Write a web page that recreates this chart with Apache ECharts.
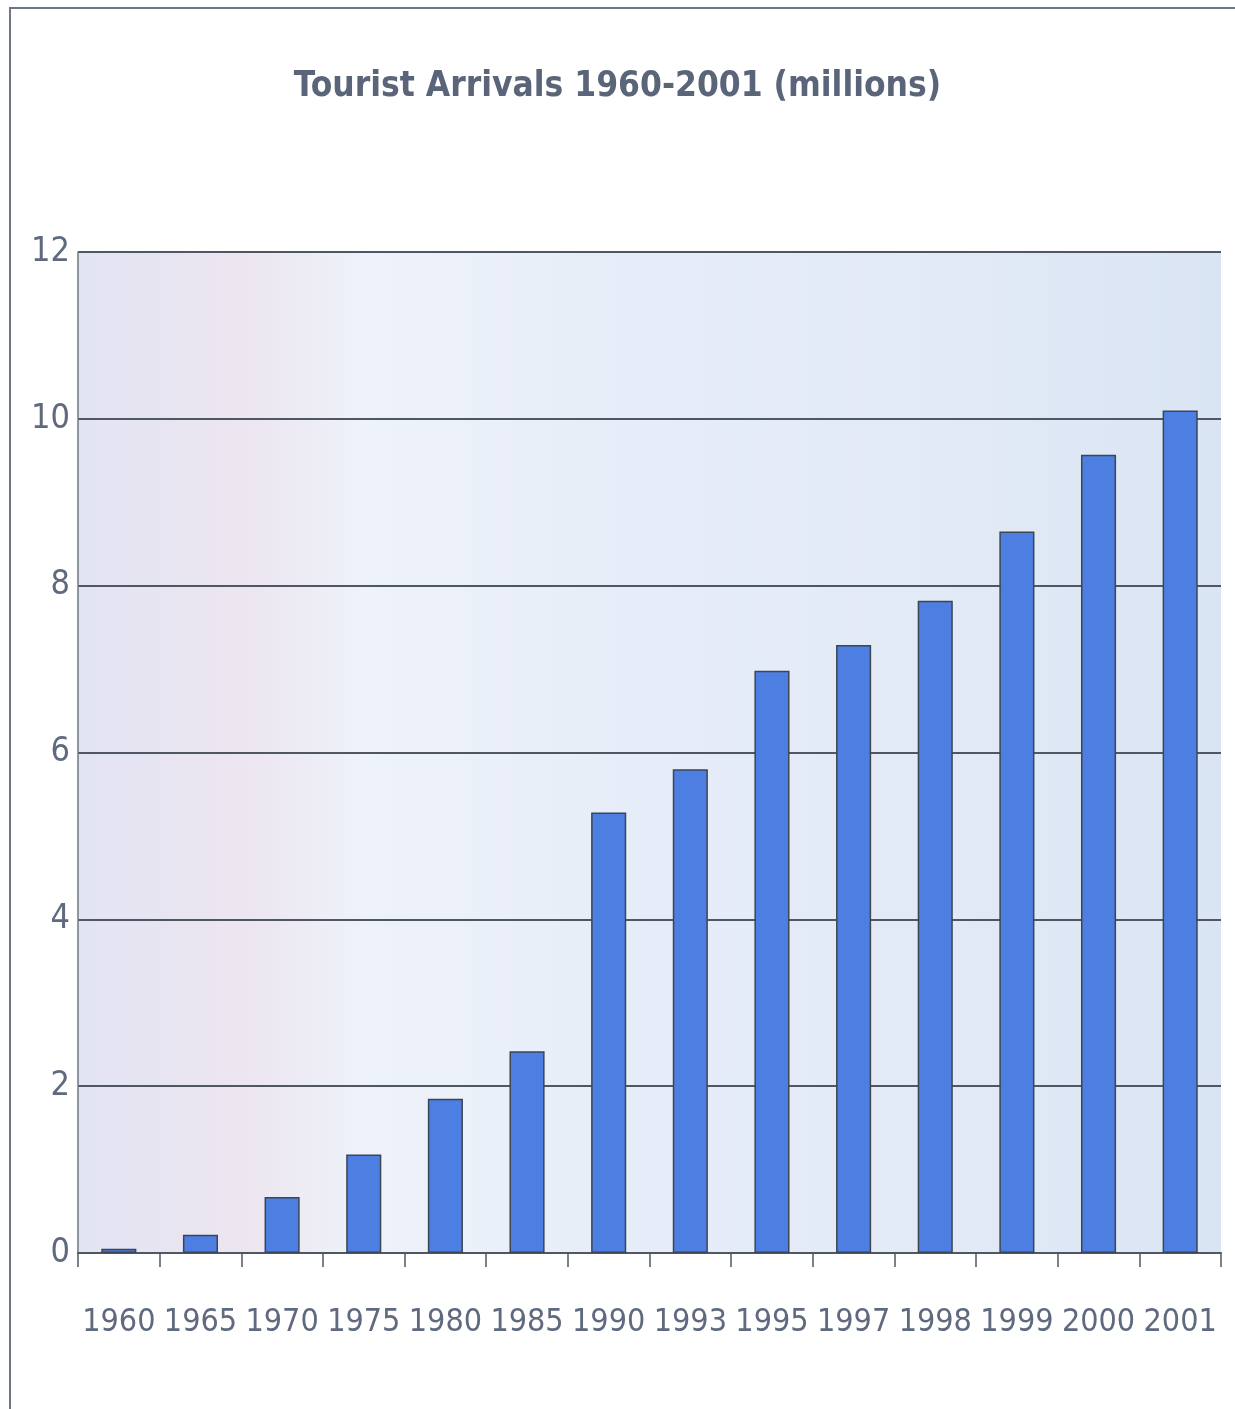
<!DOCTYPE html>
<html>
<head>
<meta charset="utf-8">
<script src="https://cdn.jsdelivr.net/npm/echarts@6/dist/echarts.min.js"></script>
<style>
  html, body { margin: 0; padding: 0; background: #fff; }
  #chart { width: 1235px; height: 1409px; }
</style>
</head>
<body>
<div id="chart"></div>
<script>
const years = ['1960', '1965', '1970', '1975', '1980', '1985', '1990', '1993', '1995', '1997', '1998', '1999', '2000', '2001']
const arrivals = [0.05, 0.22, 0.67, 1.18, 1.85, 2.42, 5.28, 5.8, 6.98, 7.29, 7.82, 8.65, 9.57, 10.1]
const yTicks = [0, 2, 4, 6, 8, 10, 12]

const chart = echarts.init(document.getElementById('chart'))
const textColor = '#5f6a7e'
const font = '"DejaVu Sans Condensed", "DejaVu Sans", sans-serif'

chart.setOption({
  backgroundColor: '#fff',
  animation: false,
  title: {
    text: 'Tourist Arrivals 1960-2001 (millions)',
    left: 'center',
    top: 64,
    textStyle: { color: '#5a6579', fontSize: 35, fontWeight: 'bold', fontFamily: font },
  },
  graphic: [
    {
      type: 'rect',
      shape: { x: 10, y: 8, width: 1230, height: 1420 },
      style: { fill: 'none', stroke: '#6e7784', lineWidth: 2 },
      silent: true,
    },
  ],
  grid: {
    left: 78,
    right: 14,
    top: 252,
    bottom: 156,
    show: true,
    borderWidth: 0,
    backgroundColor: new echarts.graphic.LinearGradient(0, 0, 1, 0, [
      { offset: 0, color: '#e3e4f3' },
      { offset: 0.15, color: '#ece6f0' },
      { offset: 0.25, color: '#eef2fa' },
      { offset: 0.5, color: '#e6edf8' },
      { offset: 0.75, color: '#e2eaf6' },
      { offset: 1, color: '#dae5f4' },
    ]),
  },
  xAxis: {
    type: 'category',
    data: years,
    axisLine: { lineStyle: { color: '#4f5862', width: 2 } },
    axisTick: { show: true, length: 14, lineStyle: { color: '#4f5862', width: 1.5 } },
    axisLabel: {
      color: textColor,
      fontSize: 32,
      fontFamily: font,
      margin: 54,
      interval: 0,
      hideOverlap: false,
    },
  },
  yAxis: {
    type: 'value',
    min: 0,
    max: 12,
    interval: 2,
    axisLine: { show: true, lineStyle: { color: '#6e7784', width: 1.5 } },
    axisTick: { show: false },
    axisLabel: {
      color: textColor,
      fontSize: 34,
      fontFamily: font,
      margin: 8,
      formatter: v => (yTicks.includes(v) ? String(v) : ''),
    },
    splitLine: { lineStyle: { color: '#4f5862', width: 2 } },
  },
  series: [
    {
      type: 'bar',
      data: arrivals,
      barWidth: '43%',
      itemStyle: {
        color: '#4d7ee2',
        borderColor: '#3c4653',
        borderWidth: 1.5,
      },
    },
  ],
})
</script>
</body>
</html>
